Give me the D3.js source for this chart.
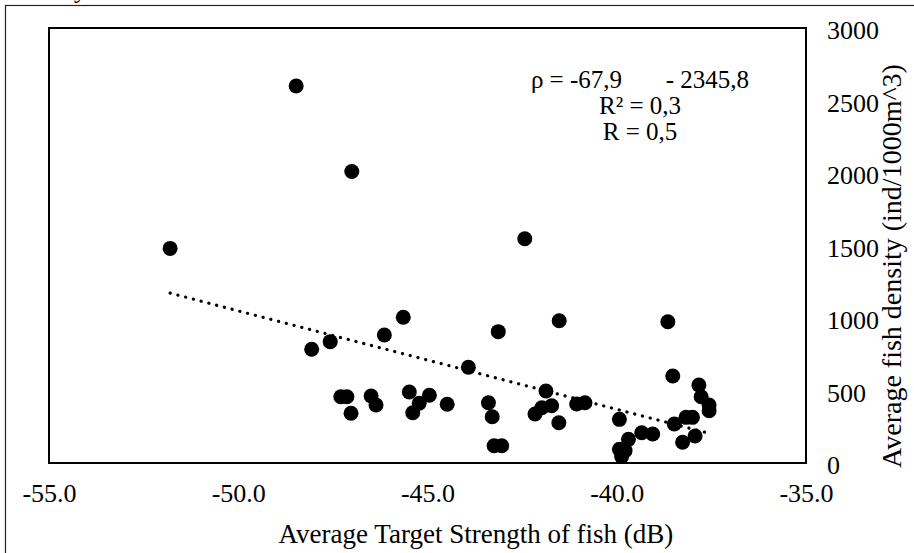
<!DOCTYPE html>
<html>
<head>
<meta charset="utf-8">
<script src="https://cdn.jsdelivr.net/npm/d3@7"></script>
<style>
  body { margin: 0; background: #fff; }
  svg { display: block; font-family: "Liberation Serif", "Times New Roman", serif; }
</style>
</head>
<body>
<div id="chart"></div>
<script>
// target strength (dB) of each sample
var tsValues = [
    -51.8, -48.47, -47.0, -48.06, -47.57, -46.14, -45.64, -47.29, -47.13, -47.02,
    -46.49, -46.36, -45.48, -45.22, -45.39, -44.95, -44.48, -43.92, -43.39, -43.29,
    -43.13, -43.24, -43.04, -42.43, -41.52, -38.65, -41.87, -41.72, -41.98, -42.16,
    -41.53, -41.06, -40.84, -39.93, -39.69, -39.93, -39.78, -39.87, -39.34, -39.05,
    -38.52, -38.48, -38.17, -38.0, -38.26, -37.93, -37.83, -37.77, -37.56, -37.56
];
// fish density (ind/1000m^3) of each sample
var densityValues = [
    1480, 2600, 2010, 784, 837, 883, 1005, 457, 457, 343,
    462, 400, 490, 412, 347, 467, 405, 660, 416, 319,
    906, 119, 119, 1547, 981, 974, 497, 395, 381, 338,
    278, 407, 416, 301, 163, 94, 85, 44, 209, 200,
    600, 269, 315, 315, 143, 186, 538, 457, 400, 360
];
var xTicks = [-55, -50, -45, -40, -35];
var yTicks = [0, 500, 1000, 1500, 2000, 2500, 3000];
// linear trend: density = slope * ts + intercept
var trendCoef = [-67.9, -2345.8];
var trendRange = [-51.8, -37.6];
var eqLines = ['\u03c1 = -67,9       - 2345,8', 'R\u00b2 = 0,3', 'R = 0,5'];

var width = 914, height = 553;
var plotLeft = 49, plotRight = 806, plotTop = 28, plotBottom = 463;

var svg = d3.select('#chart').append('svg')
    .attr('width', width)
    .attr('height', height);

svg.append('rect')
    .attr('width', width).attr('height', height)
    .attr('fill', '#fff');

// outer frame (runs off the picture on the right and bottom)
svg.append('rect')
    .attr('x', 5.5).attr('y', 5.5)
    .attr('width', 1000).attr('height', 1000)
    .attr('fill', 'none')
    .attr('stroke', '#222')
    .attr('stroke-width', 1.2);

// cut-off caption glyph above the frame
svg.append('text')
    .attr('x', 74).attr('y', -2)
    .attr('font-size', 25)
    .text('y');

var x = d3.scaleLinear().domain([-55, -35]).range([plotLeft, plotRight]);
var y = d3.scaleLinear().domain([0, 3000]).range([plotBottom, plotTop]);

var xAxis = svg.append('g')
    .attr('transform', 'translate(0,' + plotBottom + ')')
    .call(d3.axisBottom(x).tickValues(xTicks).tickSize(0)
        .tickFormat(function (d) { return d.toFixed(1); }));
xAxis.select('.domain').remove();
xAxis.selectAll('text')
    .attr('y', 39).attr('dy', 0)
    .attr('font-size', 26)
    .attr('font-family', '"Liberation Serif", serif')
    .attr('fill', '#000');

var yAxis = svg.append('g')
    .attr('transform', 'translate(' + plotRight + ',0)')
    .call(d3.axisRight(y).tickValues(yTicks).tickSize(0).tickPadding(21)
        .tickFormat(function (d) { return d; }));
yAxis.select('.domain').remove();
yAxis.selectAll('text')
    .attr('dy', '0.42em')
    .attr('font-size', 26)
    .attr('font-family', '"Liberation Serif", serif')
    .attr('fill', '#000');

// plot frame
svg.append('rect')
    .attr('x', plotLeft).attr('y', plotTop)
    .attr('width', plotRight - plotLeft).attr('height', plotBottom - plotTop)
    .attr('fill', 'none')
    .attr('stroke', '#000')
    .attr('stroke-width', 2);

var points = tsValues.map(function (v, i) { return [v, densityValues[i]]; });

svg.append('g')
    .selectAll('circle')
    .data(points)
    .enter()
    .append('circle')
    .attr('cx', function (d) { return x(d[0]); })
    .attr('cy', function (d) { return y(d[1]); })
    .attr('r', 7.5)
    .attr('fill', '#000');

var trend = trendRange.map(function (v) { return [v, trendCoef[0] * v + trendCoef[1]]; });
svg.append('path')
    .datum(trend)
    .attr('d', d3.line()
        .x(function (d) { return x(d[0]); })
        .y(function (d) { return y(d[1]); }))
    .attr('fill', 'none')
    .attr('stroke', '#000')
    .attr('stroke-width', 3.2)
    .attr('stroke-linecap', 'round')
    .attr('stroke-dasharray', '0.1 7.9');

svg.append('g')
    .selectAll('text')
    .data(eqLines)
    .enter()
    .append('text')
    .attr('x', 640)
    .attr('y', function (d, i) { return 88 + i * 26; })
    .attr('text-anchor', 'middle')
    .attr('font-size', 25)
    .style('white-space', 'pre')
    .text(function (d) { return d; });

svg.append('text')
    .attr('x', 476).attr('y', 543)
    .attr('text-anchor', 'middle')
    .attr('font-size', 27)
    .text('Average Target Strength of fish (dB)');

svg.append('text')
    .attr('transform', 'translate(901,266) rotate(-90)')
    .attr('text-anchor', 'middle')
    .attr('font-size', 28)
    .text('Average fish density (ind/1000m^3)');
</script>
</body>
</html>
